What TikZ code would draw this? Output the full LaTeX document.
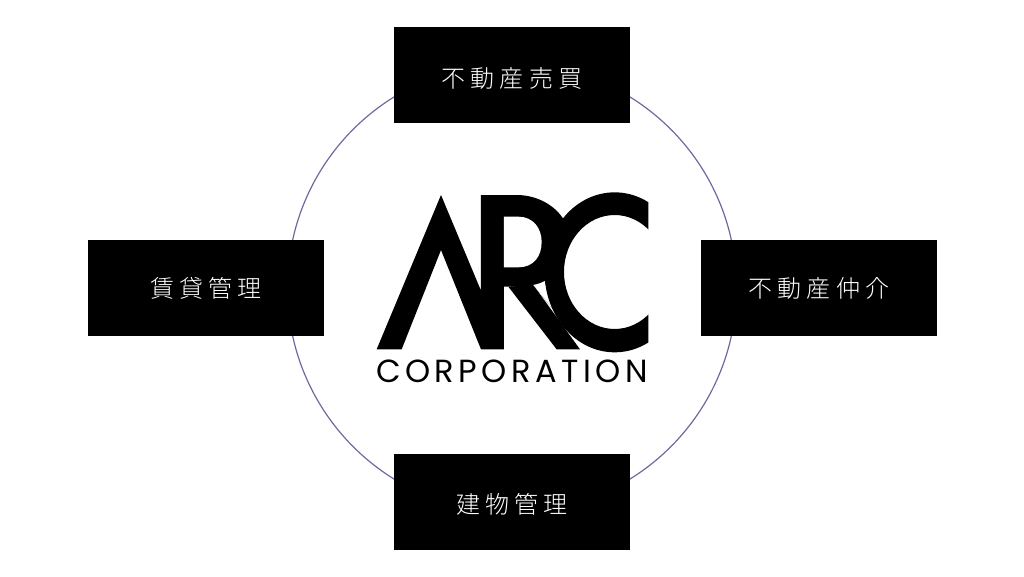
\documentclass[tikz,border=0pt]{standalone}
\usepackage{fontspec}
\newfontfamily\cjk[LetterSpace=21]{Noto Sans CJK JP Light}
\newfontfamily\logofont[LetterSpace=14]{Poppins}
\tikzset{
  biz/.style={fill=black,draw=black,line width=0.4pt,minimum width=235pt,minimum height=95pt,inner sep=0pt,text=white,font=\cjk\fontsize{24}{26}\selectfont},
  ringline/.style={circle,draw=ringc,line width=1.2pt,minimum size=449pt,inner sep=0pt}
}
\definecolor{ringc}{HTML}{6F6A9E}
\begin{document}
\begin{tikzpicture}[x=1pt,y=-1pt]
\useasboundingbox (0,0) rectangle (1024,576);
\fill[white] (0,0) rectangle (1024,576);
\node[ringline] (ring) at (512,288) {};
\node[biz,text height=27pt,text depth=3pt] (top) at (512,75) {不動産売買};
\node[biz] (left) at (206,288) {賃貸管理};
\node[biz] (right) at (819,288) {不動産仲介};
\node[biz,text height=25pt,text depth=3pt] (bottom) at (512,502) {建物管理};
\begin{scope}[shift={(360,180)},x=0.3333pt,y=-0.3333pt]
  % A and R stem
  \fill (50,508) -- (243,45) -- (363,332) -- (363,45) -- (432,45) -- (432,508) -- (363,508) -- (243,210) -- (125,508) -- cycle;
  % R bowl
  \fill (432,45) -- (470,45) .. controls (530,45) and (585,75) .. (612,120) -- (620,185) -- (600,290) -- (555,303) .. controls (530,315) and (500,320) .. (470,320) -- (432,320) -- cycle;
  \fill[white] (432,110) -- (475,110) .. controls (520,110) and (545,145) .. (545,186) .. controls (545,230) and (520,262) .. (475,262) -- (432,262) -- cycle;
  % R leg
  \fill (445,320) -- (520,315) -- (660,508) -- (590,508) -- cycle;
  % slit
  \fill (520,315) -- (600,280) -- (600,410) -- (585,395) -- cycle;
  \fill[white] (520,315) .. controls (535,312) and (545,308) .. (555,303) .. controls (560,335) and (570,368) .. (585,395) -- cycle;
  % C
  \begin{scope}
    \clip (500,0) rectangle (865,600);
    \fill[even odd rule] (764,277) ellipse [x radius=210,y radius=240] (764,276) ellipse [x radius=152,y radius=171];
  \end{scope}
\end{scope}
\node[inner sep=0pt,font=\logofont\fontsize{32}{34}\selectfont] (logo) at (512,371) {CORPORATION};
\end{tikzpicture}
\end{document}
